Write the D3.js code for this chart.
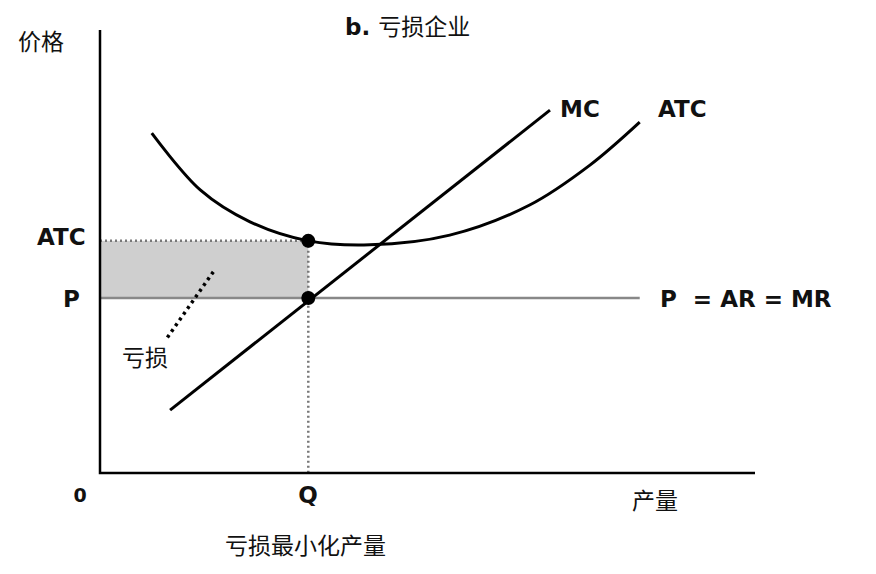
<!DOCTYPE html><html><head><meta charset="utf-8">
<script src="https://cdn.jsdelivr.net/npm/d3@7"></script>
<style>body{margin:0;background:#fff}</style></head><body>
<script>
const priceP = 3.95, priceATC = 5.24, qtyQ = 3.18;
const mcLine = [[1.07,1.42],[6.87,8.19]];
const atcCurve = [[0.79,7.67],[1.53,6.39],[2.29,5.67],[3.18,5.24],[4.12,5.15],[5.34,5.37],[6.56,6.05],[7.48,6.95],[8.24,7.92]];
const lossPointer = [[1.73,4.54],[1.0,3.0]];
const W=876,H=574;
const svg=d3.select("body").append("svg").attr("width",W).attr("height",H);
const x=d3.scaleLinear().domain([0,10]).range([100,755]);
const y=d3.scaleLinear().domain([0,10]).range([473,30]);
const cjk="'Noto Sans CJK SC',sans-serif", lat="'DejaVu Sans',sans-serif";
svg.append("rect").attr("x",x(0)).attr("y",y(priceATC)).attr("width",x(qtyQ)-x(0)).attr("height",y(priceP)-y(priceATC))
 .attr("fill","#cfcfcf");
svg.append("line").attr("x1",x(0)).attr("x2",x(qtyQ)).attr("y1",y(priceATC)).attr("y2",y(priceATC))
 .attr("stroke","#777").attr("stroke-width",2.5).attr("stroke-dasharray","2,3");
svg.append("line").attr("x1",x(qtyQ)).attr("x2",x(qtyQ)).attr("y1",y(priceATC)).attr("y2",y(0))
 .attr("stroke","#777").attr("stroke-width",2.5).attr("stroke-dasharray","2,3");
svg.append("line").attr("x1",x(0)).attr("x2",x(8.24)).attr("y1",y(priceP)).attr("y2",y(priceP))
 .attr("stroke","#888").attr("stroke-width",2.5);
svg.append("path").attr("d",`M${x(0)},${y(10)}V${y(0)}H${x(10)}`).attr("fill","none").attr("stroke","#000").attr("stroke-width",2.5);
const line=d3.line().x(d=>x(d[0])).y(d=>y(d[1]));
svg.append("path").attr("d",line(mcLine)).attr("stroke","#000").attr("stroke-width",3).attr("fill","none");
svg.append("path").attr("d",d3.line().x(d=>x(d[0])).y(d=>y(d[1])).curve(d3.curveCatmullRom)(atcCurve)).attr("stroke","#000").attr("stroke-width",3).attr("fill","none");
svg.append("path").attr("d",line(lossPointer)).attr("stroke","#000").attr("stroke-width",3.5).attr("stroke-dasharray","3,4").attr("fill","none");
[[qtyQ,priceATC],[qtyQ,priceP]].forEach(d=>svg.append("circle").attr("cx",x(d[0])).attr("cy",y(d[1])).attr("r",7).attr("fill","#000"));
function t(s,px,py,font,size,weight,anchor){svg.append("text").attr("x",px).attr("y",py).text(s).attr("font-family",font).attr("font-size",size).attr("font-weight",weight||"normal").attr("text-anchor",anchor||"start").attr("fill","#111");}
t("价格",18,50,cjk,23);
const tt=svg.append("text").attr("x",345).attr("y",35).attr("font-size",23).attr("fill","#111");
tt.append("tspan").text("b. ").attr("font-family",lat).attr("font-weight","bold");
tt.append("tspan").text("亏损企业").attr("font-family",cjk);
t("MC",560,117,lat,23,"bold");
t("ATC",658,117,lat,23,"bold");
t("ATC",37,245,lat,23,"bold");
t("P",63,307,lat,23,"bold");
t("P\u00a0\u00a0= AR = MR",660,307,lat,23,"bold");
t("亏损",122,366,cjk,23);
t("0",80,502,lat,19,"bold","middle");
t("Q",308,503,lat,23,"bold","middle");
t("产量",632,509,cjk,23);
t("亏损最小化产量",225,554,cjk,23);
</script></body></html>
